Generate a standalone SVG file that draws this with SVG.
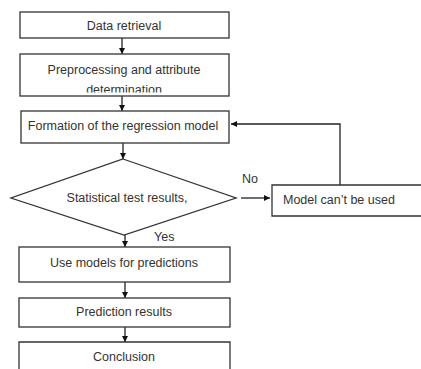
<svg xmlns="http://www.w3.org/2000/svg" width="421" height="369" viewBox="0 0 421 369">
<defs>
<style>
.box{fill:#fff;stroke:#333;stroke-width:1.3}
.t{font-family:"Liberation Sans",Arial,sans-serif;font-size:12.5px;fill:#333;text-anchor:middle}
.lbl{font-family:"Liberation Sans",Arial,sans-serif;font-size:12.5px;fill:#333}
.c{fill:none;stroke:#222;stroke-width:1.3}
</style>
<marker id="ah" viewBox="0 0 10 10" refX="10" refY="5" markerWidth="6" markerHeight="6" markerUnits="userSpaceOnUse" orient="auto">
<path d="M0,0 L10,5 L0,10 z" fill="#111"/>
</marker>
<clipPath id="clipPre"><rect x="20" y="54" width="209" height="38.5"/></clipPath>
</defs>
<rect width="421" height="369" fill="#fff"/>
<g id="connectors">
<line class="c" x1="122" y1="38" x2="122" y2="54" marker-end="url(#ah)"/>
<line class="c" x1="122" y1="96" x2="122" y2="111" marker-end="url(#ah)"/>
<line class="c" x1="123" y1="143" x2="123" y2="159" marker-end="url(#ah)"/>
<line class="c" x1="125" y1="235" x2="125" y2="247" marker-end="url(#ah)"/>
<line class="c" x1="241" y1="198" x2="270" y2="198" marker-end="url(#ah)"/>
<polyline class="c" points="340,185 340,124 231,124" marker-end="url(#ah)"/>
<line class="c" x1="125" y1="282" x2="125" y2="298" marker-end="url(#ah)"/>
<line class="c" x1="125" y1="327" x2="125" y2="342" marker-end="url(#ah)"/>
<text class="lbl" x="242" y="183">No</text>
<text class="lbl" x="154" y="241">Yes</text>
</g>
<g id="n1"><rect class="box" x="20" y="12" width="209" height="26"/><text class="t" x="124" y="30">Data retrieval</text></g>
<g id="n2"><rect class="box" x="20" y="54" width="209" height="42"/><g clip-path="url(#clipPre)"><text class="t" x="124" y="74">Preprocessing and attribute</text><text class="t" x="124" y="94">determination</text></g></g>
<g id="n3"><rect class="box" x="21" y="111" width="208" height="32"/><text class="t" x="123" y="130">Formation of the regression model</text></g>
<g id="n4"><polygon class="box" points="123,159 236,198 124,235 11,198"/><text class="t" x="127" y="202">Statistical test results,</text></g>
<g id="n5"><polyline class="box" points="425,185 272,185 272,216 425,216"/><text class="lbl" x="283" y="204">Model can’t be used</text></g>
<g id="n6"><rect class="box" x="19" y="247" width="211" height="35"/><text class="t" x="124" y="267">Use models for predictions</text></g>
<g id="n7"><rect class="box" x="19" y="298" width="211" height="29"/><text class="t" x="124" y="316">Prediction results</text></g>
<g id="n8"><polyline class="box" points="19,372 19,342 230,342 230,372"/><text class="t" x="124" y="361">Conclusion</text></g>
</svg>
